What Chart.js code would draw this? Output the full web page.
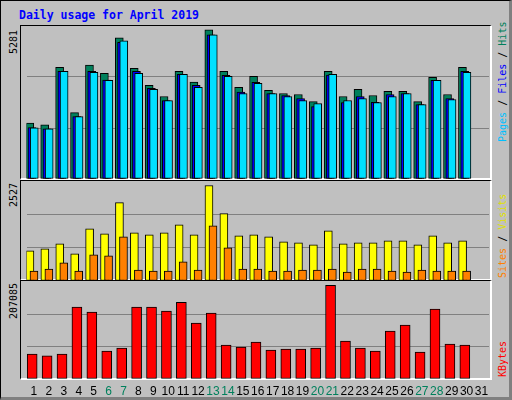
<!DOCTYPE html>
<html><head><meta charset="utf-8">
<script src="https://cdn.jsdelivr.net/npm/chart.js@4"></script>
<style>
body{margin:0;background:#fff}
#wrap{position:relative;width:508px;height:396px;background:#C0C0C0;border-top:1px solid #000;border-left:1px solid #000;border-right:3px solid #808080;border-bottom:3px solid #808080;overflow:hidden}
.panel{position:absolute;left:19px;width:469px;border-top:1px solid #000;border-left:1px solid #000;border-right:2px solid #fff;border-bottom:2px solid #fff;box-sizing:content-box}
canvas{position:absolute;left:0}
.t{position:absolute;font-family:"DejaVu Sans Mono",monospace;white-space:nowrap}
.rv{position:absolute;font-family:"DejaVu Sans Mono",monospace;font-size:10px;white-space:nowrap;transform-origin:0 0;transform:rotate(-90deg)}
</style></head><body>
<div id="wrap">
<div class="t" style="left:18px;top:7px;font-size:11.5px;font-weight:bold;color:#0000FF">Daily usage for April 2019</div>
<div class="panel" style="top:24px;height:152px"></div>
<div class="panel" style="top:179px;height:98px"></div>
<div class="panel" style="top:279px;height:97px"></div>
<div class="rv" style="left:7px;top:53px;color:#000">5281</div>
<div class="rv" style="left:7px;top:206px;color:#000">2527</div>
<div class="rv" style="left:7px;top:318px;color:#000">207085</div>
<div class="rv" style="left:496px;top:141px"><span style="color:#00C0FF">Pages</span><span style="color:#000"> / </span><span style="color:#0000FF">Files</span><span style="color:#000"> / </span><span style="color:#00805C">Hits</span></div>
<div class="rv" style="left:496px;top:277px"><span style="color:#FF8000">Sites</span><span style="color:#000"> / </span><span style="color:#E0E000">Visits</span></div>
<div class="rv" style="left:496px;top:376px;color:#FF0000">KBytes</div>
<canvas id="c1" style="top:0" width="512" height="178"></canvas>
<canvas id="c2" style="top:0" width="512" height="280"></canvas>
<canvas id="c3" style="top:0" width="512" height="400"></canvas>
</div>
<script>
const days = Array.from({length:31},(_,i)=>String(i+1));
const weekend = ["6","7","13","14","20","21","27","28"];
const hits = [1977,1920,3958,2349,4030,3744,4995,3922,3314,2921,3815,3432,5281,3815,3243,3636,3136,3028,2993,2742,3815,2921,3171,2957,3100,3100,2742,3601,2993,3958];
const files = [1824,1777,3815,2206,3815,3500,4838,3815,3207,2778,3708,3314,5102,3672,3075,3422,3028,2957,2850,2564,3683,2707,2921,2717,2993,3028,2635,3493,2850,3815];
const pages = [1813,1777,3815,2206,3779,3493,4888,3744,3171,2778,3708,3243,5102,3636,3028,3386,3028,2921,2778,2671,3708,2778,2850,2707,2921,3028,2635,3493,2814,3779];
const visits = [797,851,984,718,1383,1250,2075,1276,1223,1276,1489,1223,2527,1782,1197,1223,1170,1037,1010,957,1330,984,1010,1010,1064,1064,957,1197,1010,1064];
const sites = [265,318,478,265,691,664,1170,292,265,265,505,292,1463,877,318,318,265,265,292,292,318,239,318,318,265,239,292,265,265,265];
const kbytes = [55342,50944,55342,158695,147700,61939,68536,158695,158695,149899,169690,123511,145501,75133,70735,81730,64138,66337,66337,68536,207085,83929,68536,61939,105919,119113,59740,154297,77332,75133];

const pts=(arr,off)=>arr.map((v,i)=>({x:i+1+off,y:v}));
function ds(arr,off,color,w,order){return {data:pts(arr,off),backgroundColor:color,borderColor:'#000',borderWidth:1,barThickness:w,grouped:false,borderSkipped:false,order};}
function make(id,top,datasets,ymax,showX){
  new Chart(document.getElementById(id),{
    type:'bar',
    data:{datasets},
    options:{responsive:false,animation:false,
      layout:{padding:{left:25.5,right:24,top:top,bottom:0}},
      plugins:{legend:{display:false},tooltip:{enabled:false}},
      scales:{
        x:{type:'linear',min:0.5,max:31.5,display:showX,offset:false,
           grid:{display:false},border:{display:false},
           afterBuildTicks:s=>{s.ticks=days.map(d=>({value:+d}));},
           afterFit:s=>{if(showX) s.height=22;},
           ticks:{autoSkip:false,maxRotation:0,padding:-3,font:{family:'Liberation Sans',size:12},
             color:c=>weekend.includes(String(c.tick.value))?'#00805C':'#000',
             callback:v=>String(v)}},
        y:{min:0,max:ymax,display:true,
           afterBuildTicks:s=>{s.ticks=[0,ymax/3,2*ymax/3,ymax].map(v=>({value:v}));},
           afterFit:s=>{s.width=0;},
           ticks:{display:false},border:{display:false},
           grid:{drawTicks:false,lineWidth:1,color:c=>(c.index===1||c.index===2)?'#808080':'rgba(0,0,0,0)'}}
      }}
  });
}
make('c1',25,[ds(hits,-0.28,'#00805C',8,3),ds(files,-0.13,'#0000FF',8,2),ds(pages,0.02,'#00E0FF',8,1)],5417,false);
make('c2',180.5,[ds(visits,-0.27,'#FFFF00',8,2),ds(sites,0,'#FF8000',8,1)],2634,false);
make('c3',280.5,[ds(kbytes,-0.12,'#FF0000',10,1)],215500,true);
</script>
</body></html>
